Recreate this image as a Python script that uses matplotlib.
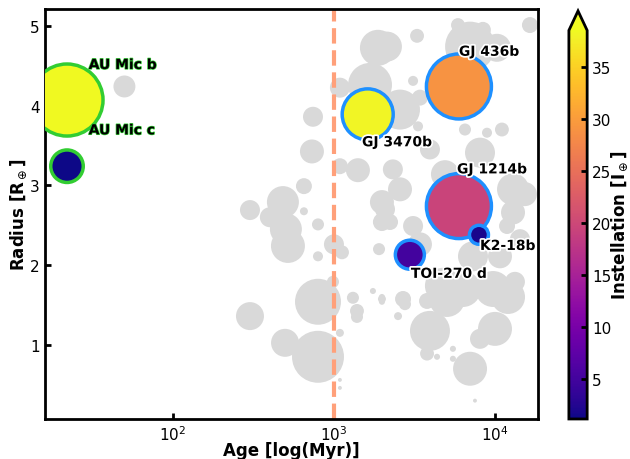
import numpy as np
import matplotlib
matplotlib.use("Agg")
import matplotlib.pyplot as plt
import matplotlib.patheffects as pe

# background sample of known planets (age in Myr, radius in Earth radii, marker size)
bg_age = [50, 301, 796, 796, 497, 1089, 1312, 1390, 1390, 1746, 1986, 1986, 1089, 1089, 986,
          730, 301, 482, 400, 503, 518, 651, 651, 796, 796, 1000, 1122, 1089, 1409, 1986,
          1986, 1905, 1875, 1675, 1089, 741, 3281, 2571, 3099, 5890, 8410, 7000, 10280, 2133,
          11040, 8920, 6510, 3327, 3946, 8070, 12940, 12940, 2571, 2075, 2230, 14290, 3099,
          11880, 2322, 7300, 10740, 4750, 3946, 7000, 10000, 12050, 8070, 3785, 2685, 2500,
          2760, 1986, 4365, 5480, 5480, 7510, 6320, 5030, 9730, 13300, 3785, 3420, 4890,
          15350, 3420, 16480]
bg_rad = [4.24, 1.36, 1.54, 0.85, 1.025, 1.15, 1.59, 1.425, 1.35, 1.675, 1.6, 1.54, 0.56, 0.46, 1.79,
          3.425, 2.69, 2.79, 2.6, 2.45, 2.24, 2.99, 2.675, 2.51, 2.11, 2.26, 2.16, 3.24, 3.19, 2.79,
          2.54, 2.2, 4.725, 4.26, 4.225, 3.86, 4.875, 3.95, 4.31, 5.01, 4.95, 4.74, 4.725, 4.74,
          3.7, 3.66, 3.7, 3.74, 3.45, 3.41, 2.95, 2.66, 2.95, 2.7, 2.54, 2.325, 2.49,
          2.49, 3.2, 2.11, 2.11, 1.74, 1.175, 0.7, 1.2, 1.6, 1.075, 0.89, 1.575, 1.36,
          1.51, 1.575, 0.85, 0.95, 0.825, 0.3, 1.7, 1.575, 1.7, 1.79, 1.55, 2.26, 3.14,
          2.89, 4.1, 5.01]
bg_size = [250, 406, 1095, 1400, 406, 33, 75, 100, 75, 19, 19, 19, 8, 8, 75,
           298, 207, 530, 207, 530, 598, 132, 33, 75, 52, 207, 100, 132, 298, 298,
           168, 75, 670, 1000, 207, 207, 100, 828, 52, 100, 132, 1290, 406, 466,
           100, 52, 75, 52, 207, 466, 530, 298, 298, 207, 132, 207, 207,
           132, 207, 466, 298, 670, 828, 598, 598, 598, 207, 100, 132, 33,
           75, 33, 19, 19, 19, 8, 670, 670, 670, 207, 132, 298, 406,
           298, 132, 132]

# highlighted planets
names = ["AU Mic b", "AU Mic c", "GJ 3470b", "GJ 436b", "GJ 1214b", "K2-18b", "TOI-270 d"]
age = [22, 22, 1620, 5970, 5970, 7950, 2960]
radius = [4.07, 3.24, 3.89, 4.24, 2.74, 2.38, 2.13]
insolation = [42, 1.3, 38.2, 29, 19.5, 1.8, 5]
size = [2690, 548, 1350, 2190, 2190, 187, 436]
edge = ["limegreen", "limegreen", "dodgerblue", "dodgerblue", "dodgerblue", "dodgerblue", "dodgerblue"]

label_age = [30, 30, 1494, 5970, 5810, 8070, 3005]
label_rad = [4.51, 3.69, 3.54, 4.675, 3.2, 2.24, 1.89]
label_glow = ["limegreen", "limegreen", "white", "white", "white", "white", "white"]

fig = plt.figure(figsize=(6.3, 4.6), dpi=100)
ax = fig.add_axes([0.071, 0.087, 0.783, 0.891])
cax = fig.add_axes([0.903, 0.087, 0.029, 0.887])

ax.scatter(bg_age, bg_rad, s=bg_size, color="#d9d9d9", linewidths=0, zorder=1)
ax.axvline(1000, color="lightsalmon", ls="--", lw=3, zorder=2)

sc = ax.scatter(age, radius, s=size, c=insolation, cmap="plasma", vmin=1.2, vmax=38.5,
                edgecolors=edge, linewidths=2.5, zorder=3)

for i in range(len(names)):
    lw = 1.0 if label_glow[i] == "limegreen" else 2.5
    ax.text(label_age[i], label_rad[i], names[i], fontsize=10, fontweight="bold",
            ha="left", va="center", zorder=4,
            path_effects=[pe.withStroke(linewidth=lw, foreground=label_glow[i])])

ax.set_xscale("log")
ax.set_xlim(16, 18500)
ax.set_ylim(0.07, 5.21)
ax.set_yticks([1, 2, 3, 4, 5])
ax.minorticks_off()
ax.tick_params(direction="in", length=4, width=2, labelsize=11)
for sp in ax.spines.values():
    sp.set_linewidth(2)

ax.set_xlabel("Age [log(Myr)]", fontsize=12, fontweight="bold", labelpad=-1)
ax.set_ylabel(r"Radius [R$_\oplus$]", fontsize=12, fontweight="bold", labelpad=0.5)

cb = fig.colorbar(sc, cax=cax, extend="max")
cb.set_ticks([5, 10, 15, 20, 25, 30, 35])
cb.ax.tick_params(direction="in", length=4, width=2, labelsize=11)
cb.outline.set_linewidth(2)
cb.set_label(r"Instellation [I$_\oplus$]", fontsize=12, fontweight="bold", labelpad=-1)

fig.savefig("out.png", dpi=100)
